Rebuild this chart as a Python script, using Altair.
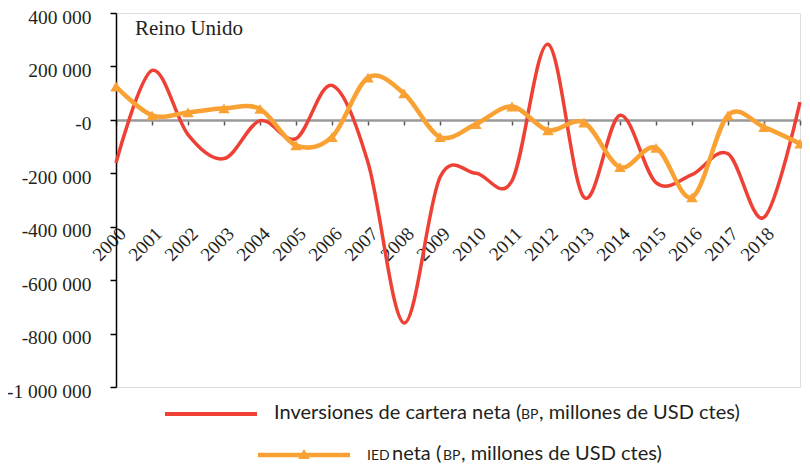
import altair as alt
import pandas as pd

# ---------------- data ----------------
years = list(range(2000, 2020))
cartera = [-161000, 185000, -55000, -145000, -3000, -70000, 129000, -160000,
           -760000, -215000, -200000, -228000, 283000, -290000, 17000,
           -235000, -205000, -127000, -365000, 66000]
ied = [125000, 17000, 28000, 43000, 41000, -95000, -64000, 158000, 99000,
       -64000, -16000, 50000, -39000, -10000, -177000, -105000, -290000,
       17000, -27000, -89000]

y_tick_values = [400000, 200000, 0, -200000, -400000, -600000, -800000, -1000000]
y_tick_labels = ["400 000", "200 000", "-0", "-200 000", "-400 000",
                 "-600 000", "-800 000", "-1 000 000"]
x_tick_labels = [str(y) for y in range(2000, 2019)] + [""]

title_text = "Reino Unido"
legend1 = ["Inversiones de cartera neta (", "BP", ", millones de USD ctes)"]
legend2 = ["IED", "neta (", "BP", ", millones de USD ctes)"]

RED = "#EE4035"
ORANGE = "#F9A133"
TXT = "#231F20"
SERIF = "Liberation Serif"
SANS = "Lato"

df = pd.DataFrame({"year": years, "cartera": cartera, "ied": ied})
one = pd.DataFrame({"k": [0]})

W, H = 684, 374

ylabel_expr = " : ".join(
    f"datum.value == {v} ? '{l}'" for v, l in zip(y_tick_values, y_tick_labels)
) + " : ''"
xlabel_expr = " : ".join(
    f"datum.value == {v} ? '{l}'" for v, l in zip(years, x_tick_labels)
) + " : ''"

xscale = alt.Scale(domain=[2000, 2019], nice=False, zero=False)
yscale = alt.Scale(domain=[-1000000, 400000], nice=False, zero=False)

x_axis = alt.Axis(
    values=years, labelExpr=xlabel_expr, labelAngle=-45, labelAlign="right",
    labelBaseline="top", labelFont=SERIF, labelFontSize=19, labelColor=TXT,
    labelPadding=99, tickSize=5, tickColor="#555555", tickWidth=1.5,
    domainColor="#999999", domainWidth=2.5, offset=-267, grid=False,
    title=None, labelOverlap=False, labelFlush=False,
)
y_axis = alt.Axis(
    values=y_tick_values, labelExpr=ylabel_expr, labelFont=SERIF,
    labelFontSize=19.5, labelColor=TXT, labelPadding=19, labelOffset=4,
    tickSize=6, tickColor="black", tickWidth=1.5, domainColor="black",
    domainWidth=1.5, grid=False, title=None, labelOverlap=False,
    labelFlush=False,
)

X = alt.X("year:Q", scale=xscale, axis=x_axis)

red_line = alt.Chart(df).mark_line(
    color=RED, strokeWidth=3.5, interpolate="cardinal", tension=0
).encode(x=X, y=alt.Y("cartera:Q", scale=yscale, axis=y_axis))

orange_line = alt.Chart(df).mark_line(
    color=ORANGE, strokeWidth=4.5, interpolate="cardinal", tension=0
).encode(x=X, y=alt.Y("ied:Q", scale=yscale, axis=y_axis))

orange_pts = alt.Chart(df).mark_point(
    shape="triangle-up", filled=True, size=130, color=ORANGE, opacity=1
).encode(x=X, y=alt.Y("ied:Q", scale=yscale, axis=y_axis))


def txt(s, x, y, size, font=SANS):
    return alt.Chart(one).mark_text(
        text=s, align="left", baseline="alphabetic", font=font,
        fontSize=size, color=TXT
    ).encode(x=alt.value(x), y=alt.value(y))


title = txt(title_text, 19, 22, 21, SERIF)

leg_red = alt.Chart(one).mark_rule(color=RED, strokeWidth=4).encode(
    x=alt.value(49), x2=alt.value(141), y=alt.value(401))
leg_or = alt.Chart(one).mark_rule(color=ORANGE, strokeWidth=4.5).encode(
    x=alt.value(142), x2=alt.value(234), y=alt.value(442))
leg_tri = alt.Chart(one).mark_point(
    shape="triangle-up", filled=True, size=130, color=ORANGE, opacity=1
).encode(x=alt.value(188), y=alt.value(441))

r1 = [txt(legend1[0], 158, 406, 20),
      txt(legend1[1], 405, 406, 14),
      txt(legend1[2], 423, 406, 20)]
r2 = [txt(legend2[0], 251, 447, 14),
      txt(legend2[1], 276, 447, 20),
      txt(legend2[2], 327, 447, 14),
      txt(legend2[3], 345, 447, 20)]

chart = alt.layer(
    red_line, orange_line, orange_pts, title, leg_red, leg_or, leg_tri, *r1, *r2
).properties(
    width=W, height=H,
    autosize=alt.AutoSizeParams(type="none"),
    padding={"left": 108, "top": 5, "right": 2, "bottom": 77},
).configure_view(stroke=None).configure(background="white").configure_axisY(
    labelFont=SERIF, labelFontSize=19.5
).configure_axisX(labelFont=SERIF, labelFontSize=19)

chart.save("out.html", embed_options={"renderer": "svg", "actions": False})
